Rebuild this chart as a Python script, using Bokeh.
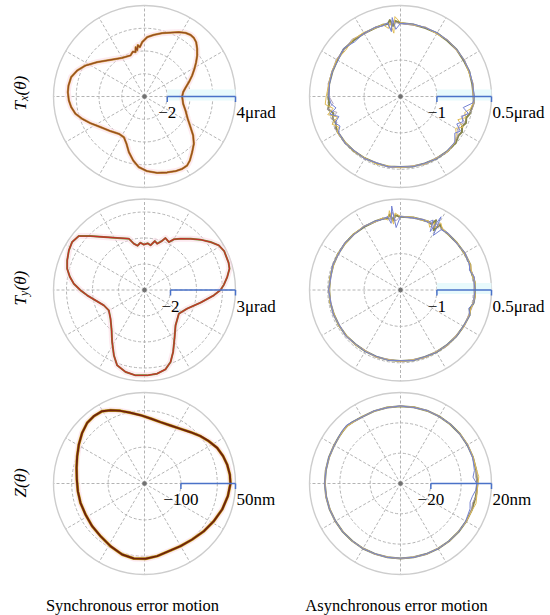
import numpy as np
from bokeh.plotting import figure
from bokeh.models import Range1d
from bokeh.embed import file_html
from bokeh.resources import INLINE
from bokeh.core.properties import value

# ---------------- data ----------------
# synchronous error motion, angle in degrees (CCW from +x), value in µrad / nm
TX_SYNC_DEG = [0, 6.4, 11.9, 17.9, 23.8, 29.0, 33.6, 37.9, 42.1, 46.4, 50.0, 53.3, 57.2, 61.9, 67.9, 74.4,
               81.4, 87.4, 92.5, 95.4, 97.4, 98.9, 100.2, 101.5, 104.5, 108.9, 120, 132.8, 144, 152.3,
               158.9, 165.2, 171.8, 176.8, 183.0, 188.3, 194.1, 199.7, 206.3, 214.9, 225.6, 235.5, 243.1,
               249.2, 254.3, 260, 265.4, 272, 279.4, 286.6, 292.5, 297.5, 301.7, 305.3, 310.6, 316.2,
               321.3, 326.3, 332.7, 341.1, 349.3]
TX_SYNC_VAL = [-0.69, -0.58, -0.32, 0.10, 0.58, 1.02, 1.45, 1.87, 2.24, 2.59, 2.74, 2.76, 2.66, 2.41, 2.07,
               1.78, 1.48, 1.22, 0.78, 0.36, 0.55, 0.12, 0.40, -0.02, 0.08, -0.19, -0.07, 0.40, 1.14, 1.86,
               2.34, 2.67, 2.75, 2.75, 2.66, 2.51, 2.25, 1.82, 1.30, 0.71, 0.27, -0.02, 0.01, 0.45, 1.08,
               1.71, 2.23, 2.57, 2.80, 2.97, 3.11, 3.17, 3.13, 2.90, 2.44, 2.01, 1.48, 0.86, 0.28, -0.19,
               -0.54]

TY_SYNC_DEG = [0, 3.8, 8.9, 14.1, 18, 26, 31, 36, 42, 48, 55, 60, 63, 68, 71, 74.7, 78, 82.3, 86, 90.8, 95,
               99, 103, 107, 117.7, 127.5, 135, 140.6, 146.4, 152.3, 159, 164.6, 170, 174.9, 180.3, 185.3,
               191.9, 200.7, 209.7, 220.1, 229.5, 238.1, 244.9, 250, 257, 264, 271.8, 278.6, 284.8, 289.9,
               294.8, 301.6, 311.3, 325.4, 336.4, 347.3, 355.6]
TY_SYNC_VAL = [1.85, 2.12, 2.44, 2.74, 2.80, 2.82, 2.67, 2.28, 1.79, 1.30, 0.82, 0.50, 0.14, 0.31, -0.05,
               -0.31, -0.15, -0.53, -0.40, -0.51, -0.35, -0.55, -0.34, 0.13, 0.52, 1.14, 1.87, 2.54, 2.68,
               2.57, 2.37, 2.17, 1.83, 1.46, 0.92, 0.43, -0.15, -0.66, -0.84, -0.58, -0.09, 0.71, 1.55,
               2.16, 2.47, 2.60, 2.57, 2.51, 2.31, 1.89, 1.25, 0.40, -0.38, -0.79, -0.42, 0.42, 1.35]

Z_SYNC_DEG = [0, 6, 12.9, 19.2, 26.1, 33.3, 40.2, 48.1, 56.6, 65.9, 75.4, 84.7, 93.4, 101.2, 108.3, 114.9,
              120.3, 127, 133.4, 140.9, 149.3, 157.9, 167, 176.6, 186.6, 196.8, 207.7, 219.2, 230.1, 241.5,
              252.5, 261.9, 270.8, 279.9, 289.8, 299.9, 310.4, 321.2, 331.5, 341.5, 351.4]
Z_SYNC_VAL = [36.2, 35.7, 33.0, 28.7, 22.3, 11.6, 1.4, -10.6, -20.1, -25.4, -25.9, -20.7, -11.9, -2.1, 10.2,
              22.0, 30.2, 31.5, 29.3, 20.7, 9.8, -0.4, -8.4, -13.8, -15.7, -16.3, -16.9, -14.5, -11.5,
              -4.1, 4.5, 8.1, 6.9, 2.6, -2.5, -1.5, 2.0, 9.1, 16.7, 25.0, 31.6]

# asynchronous error motion: several revolutions
TX_ASYNC_DEG = [0, 10, 20, 30, 40, 50, 60, 70, 80, 90, 94, 96, 98, 100, 104, 110, 120, 130, 140, 150, 160,
                170, 180, 186, 190, 194, 198, 202, 206, 210, 220, 230, 240, 250, 260, 270, 280, 290, 300,
                310, 320, 326, 330, 334, 338, 342, 346, 350, 355]
TX_ASYNC_A = [0.01, 0.00, 0.01, 0.00, 0.01, 0.00, 0.01, 0.00, 0.01, 0.02, 0.08, -0.05, 0.12, 0.02, 0.03,
              0.01, 0.00, 0.01, 0.03, 0.00, -0.01, -0.01, -0.02, -0.03, 0.02, -0.10, -0.04, -0.08, -0.03,
              -0.02, -0.02, -0.03, -0.04, -0.05, -0.05, -0.06, -0.05, -0.04, -0.03, -0.02, -0.02, -0.08,
              -0.05, -0.12, -0.06, -0.10, -0.04, -0.02, 0.02]
TX_ASYNC_B = [0.03, 0.01, 0.02, 0.01, 0.02, 0.01, 0.02, 0.01, 0.02, 0.01, -0.15, 0.18, -0.20, 0.05, 0.00,
              0.02, 0.01, -0.04, 0.05, -0.02, 0.00, -0.02, -0.03, -0.08, -0.20, 0.00, -0.22, -0.06, -0.15,
              -0.03, -0.01, -0.04, -0.03, -0.06, -0.04, -0.07, -0.04, -0.05, -0.02, -0.03, -0.05, -0.20,
              -0.10, -0.28, -0.15, -0.22, -0.08, -0.25, 0.00]
TX_ASYNC_C = [0.00, 0.02, -0.01, 0.02, 0.00, 0.02, -0.01, 0.02, 0.00, 0.03, 0.20, -0.25, 0.05, -0.10, 0.04,
              0.00, 0.03, 0.04, -0.03, 0.02, 0.01, 0.00, 0.04, 0.08, -0.12, 0.06, -0.18, 0.03, -0.10, 0.00,
              -0.03, -0.02, -0.05, -0.03, -0.06, -0.04, -0.06, -0.03, -0.04, -0.01, -0.04, -0.15, -0.25,
              -0.08, -0.30, -0.12, -0.18, -0.05, 0.01]
TX_ASYNC_D = [-0.01, 0.03, 0.00, 0.03, -0.01, 0.03, 0.00, 0.03, -0.01, 0.00, 0.04, 0.10, -0.15, 0.06, 0.00,
              0.03, -0.02, 0.06, 0.01, 0.04, -0.01, 0.02, -0.04, -0.14, 0.04, -0.20, -0.02, -0.12, 0.02,
              -0.04, 0.00, -0.05, -0.02, -0.07, -0.03, -0.05, -0.07, -0.02, -0.05, 0.00, -0.06, -0.10,
              -0.18, -0.20, -0.10, -0.25, -0.06, 0.00, 0.03]

TY_ASYNC_DEG = [0, 6, 10, 16, 20, 30, 40, 50, 56, 59, 61, 63, 65, 68, 72, 80, 90, 94, 96, 98, 100, 104,
                110, 120, 130, 140, 150, 160, 170, 180, 190, 200, 210, 220, 230, 240, 250, 260, 270, 280,
                290, 300, 310, 320, 330, 340, 345, 350, 355]
TY_ASYNC_A = [0.04, 0.05, 0.03, 0.00, 0.04, 0.03, 0.02, 0.02, 0.03, 0.10, -0.12, 0.15, 0.00, 0.03, 0.02,
              0.02, 0.01, 0.06, -0.08, 0.10, 0.01, 0.02, 0.01, 0.00, 0.00, -0.01, -0.02, -0.03, -0.04,
              -0.04, -0.04, -0.05, -0.05, -0.05, -0.06, -0.06, -0.05, -0.05, -0.05, -0.04, -0.04, -0.03,
              -0.02, -0.01, 0.00, 0.02, -0.02, 0.04, 0.05]
TY_ASYNC_B = [0.05, 0.03, 0.06, -0.03, 0.02, 0.04, 0.01, 0.03, 0.00, -0.25, 0.30, -0.20, 0.12, 0.00, 0.03,
              0.01, 0.02, -0.28, 0.32, -0.15, 0.05, 0.00, 0.02, 0.01, -0.01, 0.00, -0.03, -0.02, -0.05,
              -0.03, -0.05, -0.04, -0.06, -0.04, -0.07, -0.05, -0.06, -0.04, -0.06, -0.03, -0.05, -0.02,
              -0.03, 0.00, -0.01, 0.03, -0.06, 0.05, 0.03]
TY_ASYNC_C = [0.03, 0.06, 0.02, 0.02, 0.05, 0.02, 0.03, 0.01, 0.05, 0.15, -0.05, 0.08, -0.10, 0.05, 0.01,
              0.03, 0.02, 0.12, -0.18, 0.20, -0.05, 0.04, 0.00, 0.02, 0.01, -0.02, -0.01, -0.04, -0.03,
              -0.05, -0.03, -0.06, -0.04, -0.06, -0.05, -0.07, -0.04, -0.06, -0.04, -0.05, -0.03, -0.04,
              -0.01, -0.02, 0.01, 0.01, 0.00, 0.03, 0.06]
TY_ASYNC_D = [0.02, 0.04, 0.05, 0.01, 0.03, 0.05, 0.00, 0.04, 0.02, 0.05, 0.08, -0.08, 0.04, 0.01, 0.04,
              0.00, 0.03, -0.10, 0.15, -0.04, 0.02, 0.03, -0.01, 0.03, -0.02, 0.01, -0.04, -0.01, -0.06,
              -0.02, -0.06, -0.03, -0.07, -0.03, -0.05, -0.08, -0.03, -0.07, -0.03, -0.06, -0.02, -0.05,
              0.00, -0.03, 0.02, -0.01, 0.02, 0.02, 0.04]

Z_ASYNC_DEG = [0, 5, 10, 20, 30, 40, 50, 60, 70, 80, 90, 100, 110, 120, 128, 133, 138, 143, 150, 160, 170,
               180, 190, 200, 210, 220, 230, 240, 250, 260, 270, 280, 290, 300, 310, 320, 330, 340, 345,
               350, 355]
Z_ASYNC_A = [10.6, 10.4, 10.7, 10.8, 10.9, 11.0, 11.0, 11.1, 11.1, 11.0, 11.0, 10.9, 10.8, 10.7, 11.3,
             11.8, 11.4, 10.9, 10.5, 10.2, 10.0, 9.9, 9.8, 9.7, 9.6, 9.6, 9.5, 9.5, 9.4, 9.4, 9.4, 9.4,
             9.5, 9.6, 9.7, 9.8, 10.0, 10.2, 10.0, 10.4, 10.5]
Z_ASYNC_B = [10.2, 8.0, 9.5, 10.6, 10.8, 10.9, 11.1, 11.0, 11.2, 10.9, 11.1, 10.8, 10.9, 10.6, 11.6, 12.4,
             11.8, 11.0, 10.4, 10.3, 9.9, 10.0, 9.7, 9.8, 9.5, 9.7, 9.4, 9.6, 9.3, 9.5, 9.3, 9.5, 9.4,
             9.7, 9.6, 9.9, 9.6, 8.8, 7.5, 8.2, 9.8]
Z_ASYNC_C = [11.2, 11.8, 10.9, 11.0, 11.1, 11.2, 10.9, 11.2, 11.0, 11.2, 10.9, 11.0, 10.7, 10.9, 11.0,
             11.5, 11.2, 10.8, 10.6, 10.1, 10.1, 9.8, 9.9, 9.6, 9.7, 9.5, 9.6, 9.4, 9.5, 9.3, 9.5, 9.3,
             9.6, 9.5, 9.8, 9.7, 10.1, 10.5, 11.5, 11.0, 10.8]
Z_ASYNC_D = [10.9, 10.0, 11.0, 10.5, 11.2, 10.8, 11.2, 10.9, 11.3, 10.8, 11.2, 10.7, 11.0, 10.5, 11.1,
             12.0, 11.6, 10.7, 10.7, 10.0, 10.2, 9.7, 10.0, 9.5, 9.8, 9.4, 9.7, 9.3, 9.6, 9.2, 9.6, 9.2,
             9.7, 9.4, 9.9, 9.6, 10.2, 10.0, 9.2, 10.7, 10.9]

# radial axes
RADIAL_MIN = [-4, -2, -4, -2, -200, -40]
RADIAL_MAX = [4, 0.5, 3, 0.5, 50, 20]
RING_TICKS = [[-2, 0, 2], [-1, 0], [-2, 0, 2], [-1, 0], [-100, 0], [-20, 0]]
BAR_TICK = [-2, -1, -2, -1, -100, -20]
BAR_LEFT_LABEL = ["\u22122", "\u22121", "\u22122", "\u22121", "\u2212100", "\u221220"]
BAR_RIGHT_LABEL = ["4\u03bcrad", "0.5\u03bcrad", "3\u03bcrad", "0.5\u03bcrad", "50nm", "20nm"]
ROW_LABELS = [("T", "x"), ("T", "y"), ("Z", "")]
COL_TITLES = ["Synchronous error motion", "Asynchronous error motion"]

# ---------------- layout / style ----------------
W, H = 550, 615
p = figure(width=W, height=H, output_backend="svg", toolbar_location=None,
           x_range=Range1d(0, W), y_range=Range1d(-H, 0),
           x_axis_location=None, y_axis_location=None, min_border=0)
p.grid.visible = False
p.outline_line_color = None
p.background_fill_color = "white"
p.border_fill_color = "white"

CENTERS = [(144, 96), (400, 96), (144, 289.5), (400, 289.5), (144, 483), (400, 483)]
R = 91.0
SERIF = value("Liberation Serif")
FS = "17px"
HIGHLIGHT = [0, 1, 3]   # panels with the faint cyan band behind the scale bar


def to_xy(k, deg, vals):
    cx, cy = CENTERS[k]
    lo, hi = RADIAL_MIN[k], RADIAL_MAX[k]
    t = np.deg2rad(np.asarray(deg, float))
    r = (np.asarray(vals, float) - lo) / (hi - lo) * R
    x = cx + r * np.cos(t)
    y = -cy + r * np.sin(t)
    return np.append(x, x[0]), np.append(y, y[0])


for k in range(6):
    cx, cy = CENTERS[k]
    lo, hi = RADIAL_MIN[k], RADIAL_MAX[k]
    ang = np.deg2rad(np.arange(0, 360, 30))
    p.segment(x0=[cx] * len(ang), y0=[-cy] * len(ang), x1=cx + R * np.cos(ang), y1=-cy + R * np.sin(ang),
              line_color="#b4b4b4", line_width=1, line_dash="3 2")
    rr = [(t - lo) / (hi - lo) * R for t in RING_TICKS[k]]
    p.circle(x=[cx] * len(rr), y=[-cy] * len(rr), radius=rr, fill_color=None,
             line_color="#b4b4b4", line_width=1, line_dash="3 2")
    p.circle(x=[cx], y=[-cy], radius=[R], fill_color=None, line_color="#cdcdcd", line_width=1.4)
    p.scatter(x=[cx], y=[-cy], size=3.5, color="#707070")
    if k in HIGHLIGHT:
        xt = cx + (BAR_TICK[k] - lo) / (hi - lo) * R
        p.quad(left=[xt], right=[cx + R], top=[-cy + 7], bottom=[-cy - 4], fill_color="#e8fafc",
               line_color=None)

# synchronous curves
sync = [(0, TX_SYNC_DEG, TX_SYNC_VAL, "#c8a040", "#984a20", 2.3, 1.3),
        (2, TY_SYNC_DEG, TY_SYNC_VAL, "#6e9a3c", "#c4302a", 2.0, 1.3),
        (4, Z_SYNC_DEG, Z_SYNC_VAL, "#c8b020", "#70220c", 3.0, 2.0)]
for k, d, v, under, top, wu, wt in sync:
    x, y = to_xy(k, d, v)
    p.line(x, y, line_color="#fbd8e3", line_width=6, line_alpha=0.55, line_join="round")
    p.line(x, y, line_color=under, line_width=wu, line_join="round")
    p.line(x, y, line_color=top, line_width=wt, line_join="round")

# asynchronous curves
asyn = [(1, TX_ASYNC_DEG, [TX_ASYNC_A, TX_ASYNC_D, TX_ASYNC_C, TX_ASYNC_B]),
        (3, TY_ASYNC_DEG, [TY_ASYNC_A, TY_ASYNC_D, TY_ASYNC_C, TY_ASYNC_B]),
        (5, Z_ASYNC_DEG, [Z_ASYNC_A, Z_ASYNC_D, Z_ASYNC_C, Z_ASYNC_B])]
async_styles = [("#86864e", 2.0), ("#a898b4", 0.9), ("#e0bc55", 1.0), ("#7482d2", 1.0)]
for k, d, traces in asyn:
    for vals, (col, lw) in zip(traces, async_styles):
        x, y = to_xy(k, d, vals)
        p.line(x, y, line_color=col, line_width=lw, line_join="round")

# scale bars and labels
for k in range(6):
    cx, cy = CENTERS[k]
    lo, hi = RADIAL_MIN[k], RADIAL_MAX[k]
    xt = cx + (BAR_TICK[k] - lo) / (hi - lo) * R
    xe = cx + R
    p.line([xt, xe], [-cy, -cy], line_color="#4a72c8", line_width=1.5)
    p.segment(x0=[xt, xe], y0=[-cy, -cy], x1=[xt, xe], y1=[-cy - 5.5, -cy - 5.5],
              line_color="#4a72c8", line_width=1.5)
    p.text(x=[xt], y=[-cy - 16], text=[BAR_LEFT_LABEL[k]], text_font=SERIF, text_font_size=FS,
           text_align="center", text_baseline="alphabetic", text_color="black")
    p.text(x=[xe + 1], y=[-cy - 16], text=[BAR_RIGHT_LABEL[k]], text_font=SERIF, text_font_size=FS,
           text_align="left", text_baseline="alphabetic", text_color="black")

# row labels (rotated, italic)
row_start = [110, 305, 497]
for i, (main, sub) in enumerate(ROW_LABELS):
    ys = row_start[i]
    xb = 19.5
    p.text(x=[xb], y=[-ys], text=[main], text_font=SERIF, text_font_size=FS, text_font_style="italic",
           angle=np.pi / 2, text_align="left", text_baseline="alphabetic", text_color="black")
    ys -= 9.6
    if sub:
        p.text(x=[xb + 3.5], y=[-ys], text=[sub], text_font=SERIF, text_font_size="12px",
               text_font_style="italic", angle=np.pi / 2, text_align="left", text_baseline="alphabetic",
               text_color="black")
        ys -= 5.4
    p.text(x=[xb], y=[-ys], text=["(\u03b8)"], text_font=SERIF, text_font_size=FS, text_font_style="italic",
           angle=np.pi / 2, text_align="left", text_baseline="alphabetic", text_color="black")

# column titles
p.text(x=[132, 396], y=[-605, -605], text=COL_TITLES, text_font=SERIF, text_font_size="16.5px",
       text_align="center", text_baseline="alphabetic", text_color="black")

open("out.html", "w").write(file_html(p, INLINE))
